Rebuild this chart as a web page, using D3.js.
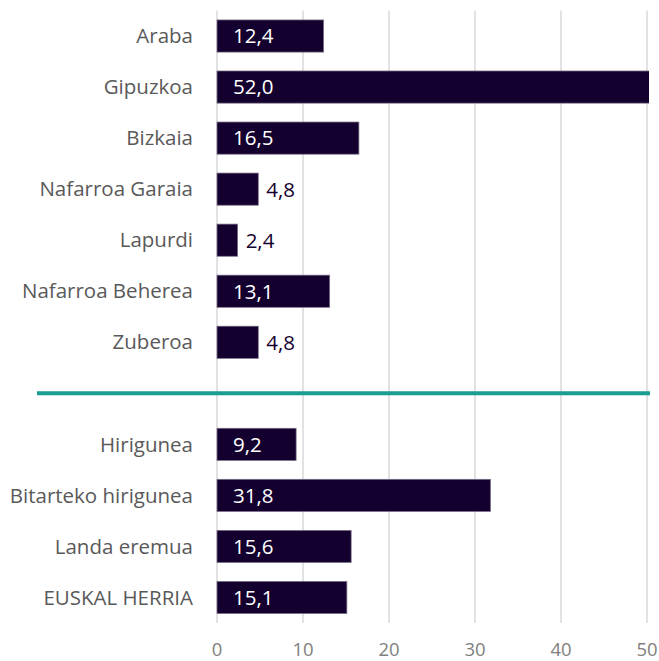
<!DOCTYPE html>
<html>
<head>
<meta charset="utf-8">
<script src="https://cdn.jsdelivr.net/npm/d3@7"></script>
<style>
  body { margin: 0; background: #fff; }
  text { font-family: 'Open Sans', sans-serif; }
</style>
</head>
<body>
<div id="chart"></div>
<script>
var width = 659
var height = 661

// lurraldeak (goiko multzoa) eta eremu motak (beheko multzoa)
var lurraldeak = ['Araba', 'Gipuzkoa', 'Bizkaia', 'Nafarroa Garaia', 'Lapurdi', 'Nafarroa Beherea', 'Zuberoa'];
var lurraldeBalioak = [12.4, 52.0, 16.5, 4.8, 2.4, 13.1, 4.8];

var eremuak = ['Hirigunea', 'Bitarteko hirigunea', 'Landa eremua', 'EUSKAL HERRIA'];
var eremuBalioak = [9.2, 31.8, 15.6, 15.1];

var tickValues = [0, 10, 20, 30, 40, 50];

var barColor = '#14002e';
var sepColor = '#1a9e92';

var data = lurraldeak.map(function(d, i){ return {name: d, value: lurraldeBalioak[i]}; })
  .concat([{name: '__sep', value: null}])
  .concat(eremuak.map(function(d, i){ return {name: d, value: eremuBalioak[i]}; }));

var svg = d3.select('#chart')
            .append('svg')
            .attr('width', width)
            .attr('height', height);

var x = d3.scaleLinear().domain([0, 50]).range([217, 647]);

var y = d3.scaleBand()
          .domain(data.map(function(d){ return d.name; }))
          .range([10.5, 623])
          .paddingInner(0.37)
          .paddingOuter(0.185);

// gridlines
svg.append('g')
   .selectAll('line')
   .data(tickValues)
   .enter().append('line')
   .attr('x1', function(d){ return x(d); })
   .attr('x2', function(d){ return x(d); })
   .attr('y1', 10.5)
   .attr('y2', 623)
   .attr('stroke', '#d9d9d9')
   .attr('stroke-width', 1.5);

// tick labels
svg.append('g')
   .selectAll('text')
   .data(tickValues)
   .enter().append('text')
   .attr('x', function(d){ return x(d); })
   .attr('y', 650)
   .attr('dy', '0.35em')
   .attr('text-anchor', 'middle')
   .attr('fill', '#808080')
   .attr('font-size', 18.5)
   .text(function(d){ return d; });

// separator
var sepY = y('__sep') + y.bandwidth() / 2;
svg.append('line')
   .attr('x1', 37)
   .attr('x2', 650)
   .attr('y1', sepY)
   .attr('y2', sepY)
   .attr('stroke', sepColor)
   .attr('stroke-width', 4);

svg.append('clipPath')
   .attr('id', 'plotclip')
   .append('rect')
   .attr('x', x(0) - 2)
   .attr('y', 0)
   .attr('width', x(50) - x(0) + 4)
   .attr('height', height);

var rows = data.filter(function(d){ return d.value !== null; });

// bars
svg.append('g')
   .attr('clip-path', 'url(#plotclip)')
   .selectAll('rect')
   .data(rows)
   .enter().append('rect')
   .attr('x', x(0))
   .attr('y', function(d){ return y(d.name); })
   .attr('width', function(d){ return x(d.value) - x(0); })
   .attr('height', y.bandwidth())
   .attr('fill', barColor)
   .attr('stroke', '#7a7088')
   .attr('stroke-width', 0.75);

// category labels
svg.append('g')
   .selectAll('text')
   .data(rows)
   .enter().append('text')
   .attr('x', 193)
   .attr('y', function(d){ return y(d.name) + y.bandwidth() / 2; })
   .attr('dy', '0.35em')
   .attr('text-anchor', 'end')
   .attr('fill', '#595959')
   .attr('font-size', 20.5)
   .text(function(d){ return d.name; });

// value labels
var fmt = function(v){ return v.toFixed(1).replace('.', ','); };
svg.append('g')
   .selectAll('text')
   .data(rows)
   .enter().append('text')
   .attr('y', function(d){ return y(d.name) + y.bandwidth() / 2; })
   .attr('dy', '0.36em')
   .attr('font-size', 20.5)
   .text(function(d){ return fmt(d.value); })
   .each(function(d){
       var w = this.getComputedTextLength();
       var barW = x(d.value) - x(0);
       var t = d3.select(this);
       if (w + 22 < barW) {
           t.attr('x', x(0) + 16).attr('fill', '#ffffff');
       } else {
           t.attr('x', x(d.value) + 8).attr('fill', barColor);
       }
   });
</script>
</body>
</html>
